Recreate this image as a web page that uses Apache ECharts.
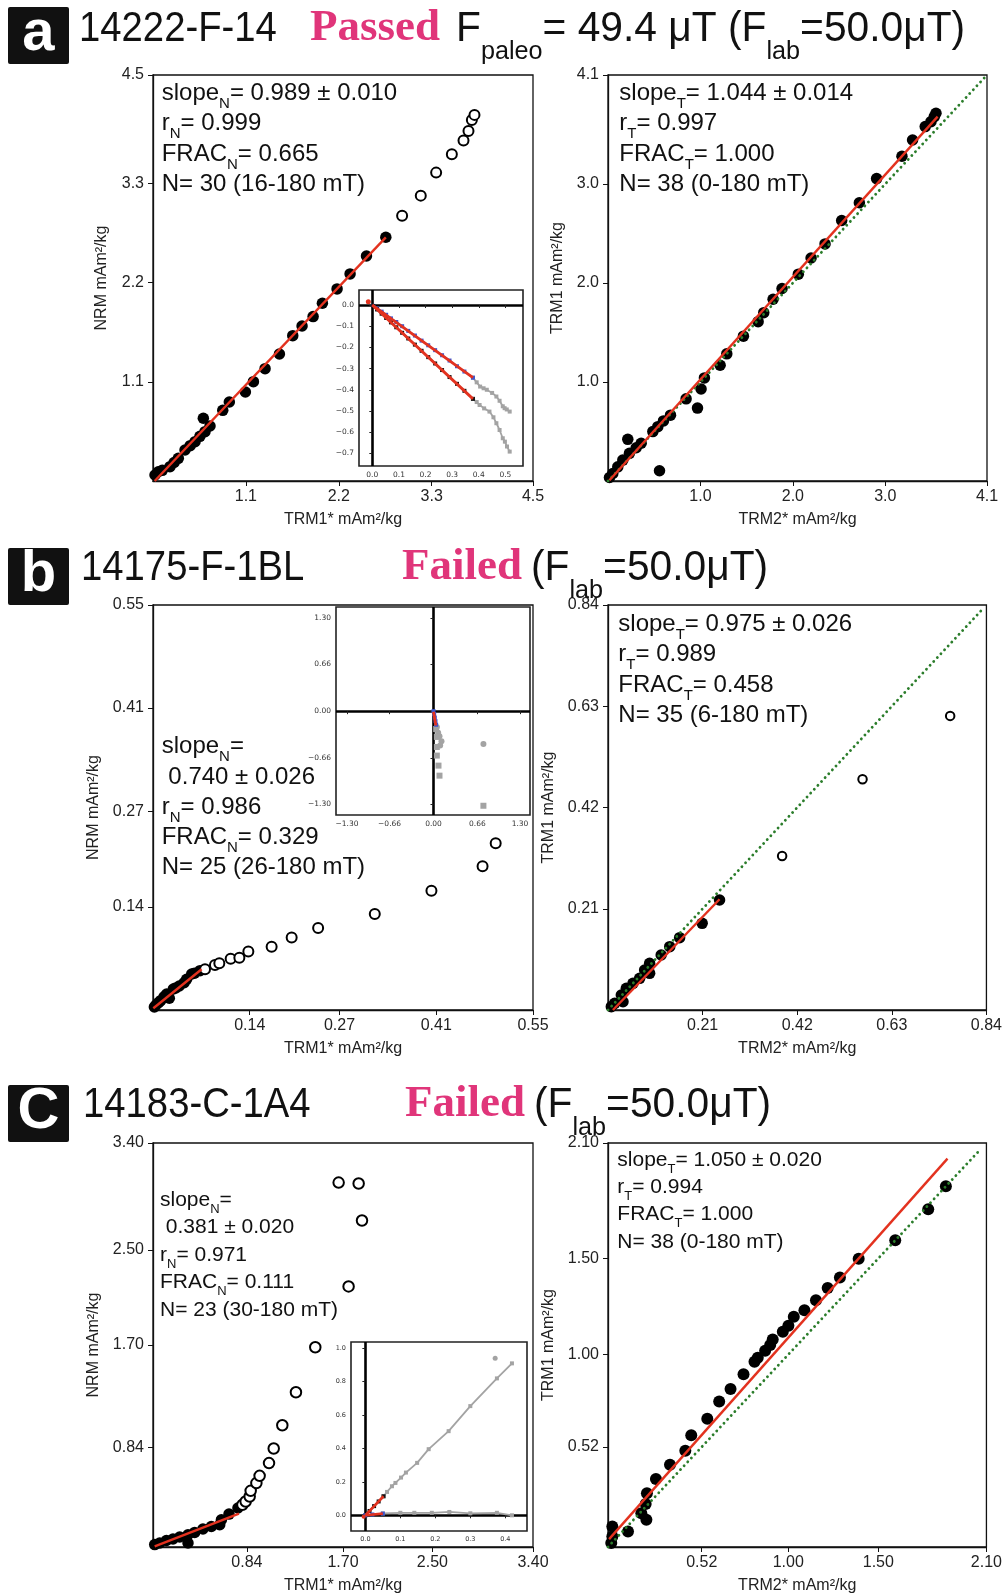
<!DOCTYPE html>
<html>
<head>
<meta charset="utf-8">
<script src="https://cdn.jsdelivr.net/npm/echarts@6.0.0/dist/echarts.min.js"></script>
<style>
html, body { margin: 0; padding: 0; background: #fff; }
#main { width: 1005px; height: 1596px; }
</style>
</head>
<body>
<div id="main"></div>
<script>
// ---- data ----
// panel a, NRM vs TRM1*
const aNrmFilled = [[0.024,0.066],[0.063,0.103],[0.11,0.118],[0.201,0.159],[0.25,0.205],[0.30,0.251],[0.379,0.344],[0.44,0.392],[0.498,0.436],[0.556,0.495],[0.616,0.547],[0.675,0.610],[0.596,0.695],[0.826,0.783],[0.904,0.876],[1.094,0.987],[1.189,1.101],[1.327,1.245],[1.497,1.408],[1.655,1.611],[1.765,1.718],[1.896,1.822],[2.006,1.970],[2.180,2.129],[2.334,2.295],[2.528,2.494],[2.757,2.702]]
const aNrmOpen = [[2.950,2.941],[3.171,3.163],[3.353,3.418],[3.539,3.622],[3.677,3.773],[3.736,3.880],[3.776,4.002],[3.807,4.058]]
const aNrmFit = [[0.02,0.0],[2.757,2.70]]
// panel a, TRM1 vs TRM2*
const aTrmFilled = [[0.016,0.035],[0.052,0.076],[0.106,0.143],[0.16,0.211],[0.232,0.279],[0.214,0.421],[0.305,0.336],[0.359,0.381],[0.557,0.103],[0.485,0.499],[0.539,0.549],[0.60,0.607],[0.676,0.665],[0.845,0.830],[0.968,0.736],[1.007,0.929],[1.043,1.041],[1.213,1.169],[1.285,1.284],[1.465,1.463],[1.624,1.609],[1.685,1.700],[1.786,1.836],[1.883,1.944],[2.059,2.089],[2.197,2.252],[2.348,2.394],[2.528,2.631],[2.719,2.810],[2.906,3.054],[3.18,3.280],[3.295,3.443],[3.432,3.579],[3.494,3.629],[3.530,3.680],[3.548,3.714]]
const aTrmFit = [[0.016,0.008],[3.566,3.68]]
const aTrmUnity = [[0,0],[4.08,4.08]]
// panel b
const bNrmFilled = [[0.002,0.004],[0.0043,0.0068],[0.008,0.01],[0.011,0.0127],[0.016,0.018],[0.0198,0.0217],[0.0236,0.0159],[0.0294,0.0285],[0.033,0.03],[0.038,0.0326],[0.045,0.037],[0.0487,0.0417],[0.056,0.0489],[0.06,0.05],[0.068,0.0534]]
const bNrmOpen = [[0.0753,0.0553],[0.0897,0.0611],[0.096,0.0634],[0.1124,0.0697],[0.125,0.0711],[0.138,0.0793],[0.1717,0.086],[0.2007,0.0983],[0.239,0.1114],[0.321,0.1304],[0.403,0.1621],[0.477,0.1952],[0.496,0.2265]]
const bNrmFit = [[0.0005,0.0023],[0.0704,0.0553]]
const bTrmFilled = [[0.0074,0.0069],[0.0148,0.0138],[0.0333,0.0172],[0.0296,0.031],[0.0407,0.045],[0.0555,0.0553],[0.0703,0.0657],[0.0924,0.076],[0.0813,0.083],[0.0924,0.0968],[0.118,0.114],[0.137,0.1314],[0.159,0.150],[0.209,0.1798],[0.2476,0.2282]]
const bTrmOpen = [[0.3865,0.3195],[0.565,0.4786],[0.7595,0.61]]
const bTrmFit = [[0.011,0.0],[0.2476,0.2297]]
const bTrmUnity = [[0,0],[0.835,0.835]]
// panel c
const cNrmFilled = [[0.0155,0.02],[0.06,0.034],[0.12,0.055],[0.179,0.067],[0.239,0.084],[0.313,0.103],[0.313,0.034],[0.373,0.123],[0.447,0.151],[0.522,0.173],[0.597,0.187],[0.612,0.229],[0.680,0.277],[0.760,0.328]]
const cNrmOpen = [[0.80,0.355],[0.829,0.383],[0.865,0.425],[0.874,0.473],[0.925,0.538],[0.954,0.599],[1.038,0.706],[1.080,0.829],[1.157,1.025],[1.279,1.302],[1.452,1.681],[1.750,2.193],[1.870,2.748],[1.661,3.067],[1.840,3.059]]
const cNrmFit = [[0.015,0.005],[0.769,0.28]]
const cTrmFilled = [[0.018,0.021],[0.024,0.055],[0.024,0.107],[0.111,0.081],[0.213,0.142],[0.185,0.176],[0.209,0.223],[0.216,0.280],[0.266,0.353],[0.344,0.427],[0.429,0.50],[0.462,0.581],[0.551,0.667],[0.617,0.756],[0.680,0.821],[0.752,0.898],[0.813,0.963],[0.831,0.984],[0.872,1.020],[0.90,1.050],[0.914,1.079],[0.970,1.119],[1.001,1.150],[1.031,1.197],[1.090,1.231],[1.154,1.283],[1.219,1.346],[1.287,1.401],[1.391,1.498],[1.594,1.595],[1.777,1.756],[1.875,1.875]]
const cTrmFit = [[0.006,0.041],[1.884,2.019]]
const cTrmUnity = [[0,0],[2.06,2.06]]

// insets (Zijderveld)
const zaHorFit = [[0.004,-0.004],[0.018,-0.016],[0.035,-0.031],[0.052,-0.046],[0.07,-0.063],[0.09,-0.08],[0.112,-0.1],[0.135,-0.122],[0.16,-0.144],[0.185,-0.168],[0.21,-0.19],[0.236,-0.213],[0.262,-0.237],[0.29,-0.262],[0.318,-0.289],[0.346,-0.314],[0.378,-0.343]]
const zaHorRest = [[0.378,-0.343],[0.392,-0.365],[0.405,-0.385],[0.418,-0.393],[0.43,-0.40],[0.45,-0.415],[0.466,-0.432],[0.478,-0.452],[0.49,-0.478],[0.497,-0.487],[0.505,-0.493],[0.516,-0.503]]
const zaVerFit = [[0.004,-0.005],[0.018,-0.021],[0.035,-0.041],[0.052,-0.061],[0.07,-0.082],[0.09,-0.105],[0.112,-0.131],[0.135,-0.158],[0.16,-0.187],[0.185,-0.216],[0.21,-0.246],[0.236,-0.276],[0.262,-0.307],[0.29,-0.34],[0.318,-0.372],[0.346,-0.405],[0.378,-0.443]]
const zaVerRest = [[0.378,-0.443],[0.392,-0.458],[0.403,-0.472],[0.42,-0.488],[0.44,-0.503],[0.455,-0.53],[0.466,-0.558],[0.478,-0.59],[0.49,-0.629],[0.498,-0.645],[0.506,-0.668],[0.516,-0.692]]
const zaHorLine = [[0.0,0.0],[0.378,-0.343]]
const zaVerLine = [[0.0,0.0],[0.378,-0.443]]
const zaStart = [[-0.015,0.016]]

const zbBlue = [[0.0,0.0],[0.01,-0.04],[0.02,-0.09],[0.03,-0.14],[0.04,-0.19]]
const zbFit = [[0.0,-0.01],[0.035,-0.2]]
const zbGrayCirc = [[0.05,-0.22],[0.07,-0.3],[0.09,-0.35],[0.12,-0.42],[0.1,-0.48],[0.75,-0.46]]
const zbGraySq = [[0.04,-0.25],[0.05,-0.36],[0.05,-0.5],[0.05,-0.62],[0.075,-0.76],[0.09,-0.9],[0.75,-1.32]]

const zcUpGray = [[0.052,0.114],[0.062,0.14],[0.076,0.174],[0.086,0.194],[0.102,0.226],[0.116,0.256],[0.148,0.314],[0.181,0.396],[0.238,0.504],[0.30,0.654],[0.376,0.82],[0.419,0.91]]
const zcUpFit = [[0.0,0.0],[0.012,0.026],[0.025,0.055],[0.038,0.083],[0.052,0.114]]
const zcFlatGray = [[0.05,0.012],[0.1,0.015],[0.14,0.015],[0.19,0.015],[0.24,0.02],[0.3,0.012],[0.376,0.015],[0.419,0.0]]
const zcFlatFit = [[0.0,0.0],[0.02,0.005],[0.05,0.01]]
const zcOut = [[0.371,0.94]]
const zcStart = [[-0.005,-0.008]]

// tick labels
const aNrmTicks = [1.1, 2.2, 3.3, 4.5]
const aTrmTicks = [1.0, 2.0, 3.0, 4.1]
const bNrmTicks = [0.14, 0.27, 0.41, 0.55]
const bTrmTicks = [0.21, 0.42, 0.63, 0.84]
const cNrmTicks = [0.84, 1.70, 2.50, 3.40]
const cTrmTicks = [0.52, 1.00, 1.50, 2.10]
const zaXTicks = [0.0, 0.1, 0.2, 0.3, 0.4, 0.5]
const zaYTicks = [0.0, -0.1, -0.2, -0.3, -0.4, -0.5, -0.6, -0.7]
const zbTicks = [-1.30, -0.66, 0.00, 0.66, 1.30]
const zcXTicks = [0.0, 0.1, 0.2, 0.3, 0.4]
const zcYTicks = [0.0, 0.2, 0.4, 0.6, 0.8, 1.0]

const SANS = "'Liberation Sans', Arial, sans-serif"
const SERIF = "'Liberation Serif', 'Times New Roman', serif"
const RED = '#e3321f'
const GREEN = '#2b7d2b'
const GRAY = '#a3a3a3'
const BLUE = '#3a55d0'

const grids = [], xAxes = [], yAxes = [], series = []

function fmt(dec) {
  return v => (v < 0 ? '\u2212' : '') + Math.abs(v).toFixed(dec)
}

function addPanel(box, xmax, ymax, xt, yt, dec, xName, yName, yGap) {
  const i = grids.length
  grids.push({ left: box[0], top: box[1], width: box[2], height: box[3], show: true,
    backgroundColor: '#fff', borderColor: '#111', borderWidth: 1.3, z: 0 })
  const common = {
    gridIndex: i, type: 'value', nameLocation: 'middle',
    nameTextStyle: { fontFamily: SANS, fontSize: 16, color: '#222' },
    axisLine: { show: true, onZero: false, lineStyle: { color: '#111', width: 1.3 } },
    splitLine: { show: false }
  }
  xAxes.push(Object.assign({}, common, { min: 0, max: xmax, name: xName, nameGap: 31,
    axisTick: { show: true, length: 5, customValues: xt, lineStyle: { color: '#111' } },
    axisLabel: { customValues: xt, formatter: fmt(dec), margin: 8, fontFamily: SANS, fontSize: 16, color: '#222' } }))
  yAxes.push(Object.assign({}, common, { min: 0, max: ymax, name: yName, nameGap: yGap,
    axisTick: { show: true, length: 5, customValues: yt, lineStyle: { color: '#111' } },
    axisLabel: { customValues: yt, formatter: fmt(dec), margin: 9, fontFamily: SANS, fontSize: 16, color: '#222' } }))
  return i
}

function addInset(box, xr, yr, xt, yt, dec, fs) {
  const i = grids.length
  grids.push({ left: box[0], top: box[1], width: box[2], height: box[3], show: true,
    backgroundColor: '#fff', borderColor: '#222', borderWidth: 1.6, z: 5 })
  const mk = (r, t) => ({ gridIndex: i, type: 'value', min: r[0], max: r[1], z: 6,
    axisLine: { show: false }, splitLine: { show: false },
    axisTick: { show: true, length: 3, customValues: t, lineStyle: { color: '#222' } },
    axisLabel: { customValues: t, formatter: fmt(dec), margin: 5, fontFamily: 'DejaVu Sans', fontSize: fs, color: '#333' } })
  xAxes.push(mk(xr, xt))
  yAxes.push(mk(yr, yt))
  return i
}

function dots(i, data, open, size, z) {
  series.push({ type: 'scatter', xAxisIndex: i, yAxisIndex: i, data: data, symbol: 'circle',
    symbolSize: size, silent: true, z: z || 2,
    itemStyle: open ? { color: '#fff', borderColor: '#000', borderWidth: 2, opacity: 1 } : { color: '#000', opacity: 1 } })
}

function line(i, data, color, width, type, z, cap) {
  series.push({ type: 'line', xAxisIndex: i, yAxisIndex: i, data: data, showSymbol: false,
    silent: true, z: z || 3, lineStyle: { color: color, width: width, type: type || 'solid', cap: cap || 'butt' } })
}

function zpath(i, data, color, sym, z) {
  series.push({ type: 'line', xAxisIndex: i, yAxisIndex: i, data: data, symbol: sym, symbolSize: 4,
    showSymbol: true, silent: true, z: z || 7, lineStyle: { color: color, width: 1.8 }, itemStyle: { color: color } })
}

function zpts(i, data, color, sym, size, z) {
  series.push({ type: 'scatter', xAxisIndex: i, yAxisIndex: i, data: data, symbol: sym, symbolSize: size,
    silent: true, z: z || 7, itemStyle: { color: color, opacity: 1 } })
}

function axesCross(i) {
  series.push({ type: 'scatter', xAxisIndex: i, yAxisIndex: i, data: [], z: 6, silent: true,
    markLine: { silent: true, symbol: 'none', animation: false, label: { show: false },
      lineStyle: { color: '#000', width: 2.6, type: 'solid' },
      data: [{ xAxis: 0 }, { yAxis: 0 }] } })
}

const DOTTED = [0.1, 5.2]

// main panels
const pA1 = addPanel([153, 75, 380, 406], 4.5, 4.5, aNrmTicks, aNrmTicks, 1, 'TRM1* mAm\u00b2/kg', 'NRM mAm\u00b2/kg', 43)
const pA2 = addPanel([608, 75, 379, 406], 4.1, 4.1, aTrmTicks, aTrmTicks, 1, 'TRM2* mAm\u00b2/kg', 'TRM1 mAm\u00b2/kg', 42)
const pB1 = addPanel([153, 605, 380, 405], 0.55, 0.55, bNrmTicks, bNrmTicks, 2, 'TRM1* mAm\u00b2/kg', 'NRM mAm\u00b2/kg', 51)
const pB2 = addPanel([608, 605, 379, 405], 0.84, 0.84, bTrmTicks, bTrmTicks, 2, 'TRM2* mAm\u00b2/kg', 'TRM1 mAm\u00b2/kg', 51)
const pC1 = addPanel([153, 1143, 380, 404], 3.40, 3.40, cNrmTicks, cNrmTicks, 2, 'TRM1* mAm\u00b2/kg', 'NRM mAm\u00b2/kg', 51)
const pC2 = addPanel([608, 1143, 379, 404], 2.10, 2.10, cTrmTicks, cTrmTicks, 2, 'TRM2* mAm\u00b2/kg', 'TRM1 mAm\u00b2/kg', 51)

dots(pA1, aNrmFilled, false, 11.5); dots(pA1, aNrmOpen, true, 10); line(pA1, aNrmFit, RED, 2.4)
dots(pA2, aTrmFilled, false, 11.5); line(pA2, aTrmUnity, GREEN, 2.8, DOTTED, 2.5, 'round'); line(pA2, aTrmFit, RED, 2.4)
dots(pB1, bNrmFilled, false, 11.5); dots(pB1, bNrmOpen, true, 10); line(pB1, bNrmFit, RED, 2.4)
dots(pB2, bTrmFilled, false, 11.5); dots(pB2, bTrmOpen, true, 8.5); line(pB2, bTrmUnity, GREEN, 2.8, DOTTED, 2.5, 'round'); line(pB2, bTrmFit, RED, 2.4)
dots(pC1, cNrmFilled, false, 11.5); dots(pC1, cNrmOpen, true, 10.5); line(pC1, cNrmFit, RED, 2.4)
dots(pC2, cTrmFilled, false, 12); line(pC2, cTrmUnity, GREEN, 2.8, DOTTED, 2.5, 'round'); line(pC2, cTrmFit, RED, 2.4)

// insets
const iA = addInset([359, 290, 164, 176], [-0.05, 0.566], [-0.76, 0.071], zaXTicks, zaYTicks, 1, 7.5)
axesCross(iA)
zpath(iA, zaHorRest, GRAY, 'rect'); zpath(iA, zaVerRest, GRAY, 'rect')
zpath(iA, zaHorFit, BLUE, 'rect'); zpath(iA, zaVerFit, '#111', 'rect')
line(iA, zaHorLine, RED, 2.8, 'solid', 8); line(iA, zaVerLine, RED, 2.8, 'solid', 8)
zpts(iA, zaStart, RED, 'circle', 5, 8)

const iB = addInset([336, 607, 194, 208], [-1.465, 1.45], [-1.449, 1.453], zbTicks, zbTicks, 2, 7.5)
axesCross(iB)
zpts(iB, zbGrayCirc, GRAY, 'circle', 6); zpts(iB, zbGraySq, GRAY, 'rect', 6)
zpath(iB, zbBlue, BLUE, 'rect'); line(iB, zbFit, RED, 2.8, 'solid', 8)

const iC = addInset([351, 1342, 176, 189], [-0.041, 0.462], [-0.094, 1.038], zcXTicks, zcYTicks, 1, 6.5)
axesCross(iC)
zpath(iC, zcUpGray, GRAY, 'rect'); zpath(iC, zcFlatGray, GRAY, 'rect')
zpts(iC, zcOut, GRAY, 'circle', 5)
zpath(iC, zcUpFit, '#111', 'rect'); zpath(iC, zcFlatFit, BLUE, 'rect')
line(iC, [zcUpFit[0], zcUpFit[zcUpFit.length - 1]], RED, 2.6, 'solid', 8)
line(iC, [zcFlatFit[0], zcFlatFit[zcFlatFit.length - 1]], RED, 2.6, 'solid', 8)
zpts(iC, zcStart, RED, 'circle', 4, 8)

// ---- text ----
const mctx = document.createElement('canvas').getContext('2d')
const graphics = []

// parts: [text, size, family, weight, color, dy, scaleX]
function run(x, base, parts) {
  parts.forEach(p => {
    const font = p[3] + ' ' + p[1] + 'px ' + p[2]
    const sx = p[6] || 1
    graphics.push({ type: 'text', x: x, y: base + p[5] - 0.35 * p[1], scaleX: sx, silent: true, z: 100,
      style: { text: p[0], font: font, fill: p[4], align: 'left', verticalAlign: 'middle' } })
    mctx.font = font
    x += mctx.measureText(p[0]).width * sx
  })
}

function stats(x, base, step, size, lines) {
  lines.forEach((ln, k) => {
    run(x, base + k * step, ln.map(s => typeof s === 'string'
      ? [s, size, SANS, 'normal', '#111', 0]
      : [s[0], Math.round(size * 0.62), SANS, 'normal', '#111', size * 0.31]))
  })
}

stats(161.7, 101.7, 30.4, 24, [['slope', ['N'], '= 0.989 \u00b1 0.010'], ['r', ['N'], '= 0.999'], ['FRAC', ['N'], '= 0.665'], ['N= 30 (16-180 mT)']])
stats(619.3, 101.7, 30.4, 24, [['slope', ['T'], '= 1.044 \u00b1 0.014'], ['r', ['T'], '= 0.997'], ['FRAC', ['T'], '= 1.000'], ['N= 38 (0-180 mT)']])
stats(161.7, 755, 30.3, 24, [['slope', ['N'], '='], [' 0.740 \u00b1 0.026'], ['r', ['N'], '= 0.986'], ['FRAC', ['N'], '= 0.329'], ['N= 25 (26-180 mT)']])
stats(618.3, 632.7, 30.3, 24, [['slope', ['T'], '= 0.975 \u00b1 0.026'], ['r', ['T'], '= 0.989'], ['FRAC', ['T'], '= 0.458'], ['N= 35 (6-180 mT)']])
stats(160, 1207.3, 27.5, 21, [['slope', ['N'], '='], [' 0.381 \u00b1 0.020'], ['r', ['N'], '= 0.971'], ['FRAC', ['N'], '= 0.111'], ['N= 23 (30-180 mT)']])
stats(617.3, 1167.3, 27.3, 21, [['slope', ['T'], '= 1.050 \u00b1 0.020'], ['r', ['T'], '= 0.994'], ['FRAC', ['T'], '= 1.000'], ['N= 38 (0-180 mT)']])

// headers
const PINK = '#e0357a'
function badge(y, letter) {
  graphics.push({ type: 'rect', shape: { x: 8, y: y, width: 61, height: 57, r: 2 }, style: { fill: '#111' }, z: 100, silent: true })
  graphics.push({ type: 'text', x: 38.5, y: y + 27, z: 101, silent: true,
    style: { text: letter, font: 'bold 58px ' + SANS, fill: '#fff', align: 'center', verticalAlign: 'middle' } })
}
const H = 42, HS = 26, HD = 17, IDX = 0.89, FX = 0.97
const hp = (t, s, dy) => [t, s, SANS, 'normal', '#111', dy, FX]
badge(7, 'a'); badge(548, 'b'); badge(1085, 'C')
run(79, 44, [['14222-F-14', 43, SANS, 'normal', '#111', 0, IDX]])
run(310, 44, [['Passed', 45, SERIF, 'bold', PINK, 0]])
run(456, 44, [hp('F', H, 0), hp('paleo', HS, HD), hp('= 49.4 \u03bcT (F', H, 0), hp('lab', HS, HD), hp('=50.0\u03bcT)', H, 0)])
run(81, 583, [['14175-F-1BL', 43, SANS, 'normal', '#111', 0, IDX]])
run(402, 583, [['Failed', 45, SERIF, 'bold', PINK, 0]])
run(531, 583, [hp('(F', H, 0), hp('lab', HS, HD), hp('=50.0\u03bcT)', H, 0)])
run(83, 1120, [['14183-C-1A4', 43, SANS, 'normal', '#111', 0, IDX]])
run(405, 1120, [['Failed', 45, SERIF, 'bold', PINK, 0]])
run(534, 1120, [hp('(F', H, 0), hp('lab', HS, HD), hp('=50.0\u03bcT)', H, 0)])

const chart = echarts.init(document.getElementById('main'))
chart.setOption({
  animation: false,
  backgroundColor: '#fff',
  grid: grids,
  xAxis: xAxes,
  yAxis: yAxes,
  series: series,
  graphic: { elements: graphics }
})
</script>
</body>
</html>
